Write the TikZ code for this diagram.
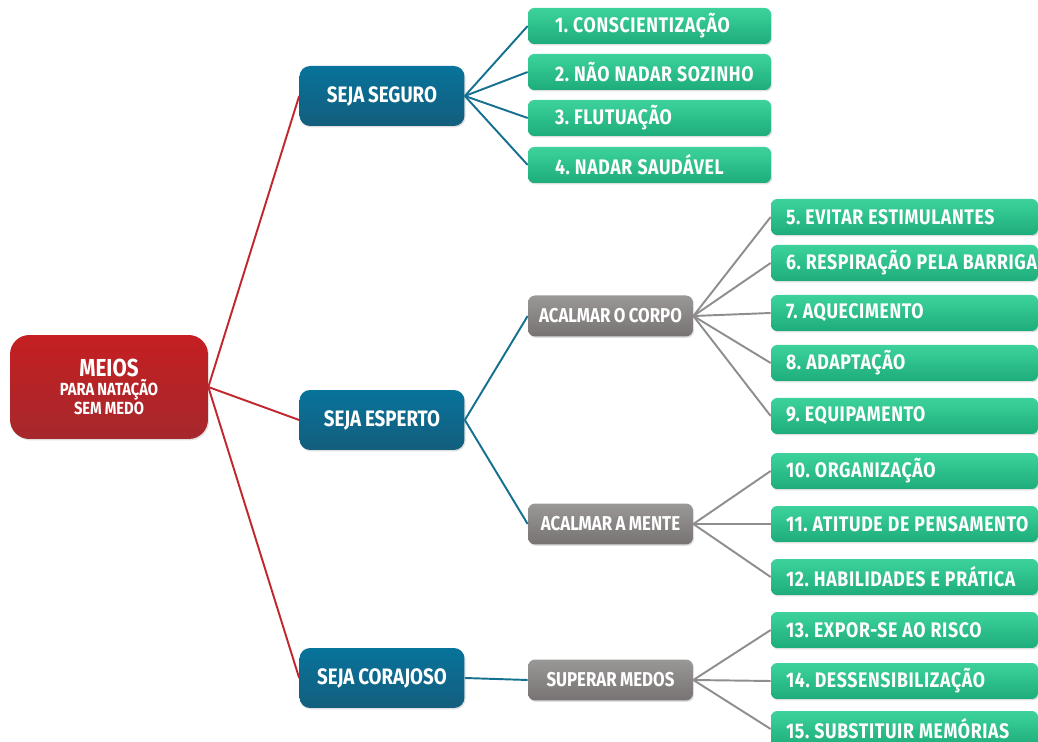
\documentclass[tikz,border=0pt]{standalone}
\usepackage{fontspec}
\setmainfont{Fira Sans}
\newfontfamily\condfont[FakeStretch=0.84, WordSpace=0.85]{Fira Sans}
\newfontfamily\leaffont[FakeStretch=0.84, WordSpace=1.05, LetterSpace=3]{Fira Sans}
\usetikzlibrary{shadows}
\definecolor{rootT}{HTML}{C51F22}
\definecolor{rootB}{HTML}{A6282C}
\definecolor{blueT}{HTML}{08739B}
\definecolor{blueB}{HTML}{135E7D}
\definecolor{greenT}{HTML}{3DD29C}
\definecolor{greenB}{HTML}{1DAD7A}
\definecolor{grayT}{HTML}{9A9897}
\definecolor{grayB}{HTML}{767372}
\definecolor{redline}{HTML}{C1272D}
\definecolor{blueline}{HTML}{16708F}
\definecolor{grayline}{HTML}{8E8E8E}

\begin{document}
\begin{tikzpicture}[x=0.02cm,y=-0.02cm]
\useasboundingbox (0,0) rectangle (1038,742);
\tikzstyle{box} = [text=white, inner sep=0pt, font=\condfont\bfseries\frenchspacing\fontsize{12}{14}\selectfont,
  drop shadow={opacity=.25, shadow xshift=.6pt, shadow yshift=-.8pt}]
\tikzstyle{rootbox} = [box, top color=rootT, bottom color=rootB, rounded corners=11pt,
  minimum width=3.96cm, minimum height=2.08cm, align=center]
\tikzstyle{seja} = [box, top color=blueT, bottom color=blueB, rounded corners=6pt,
  minimum width=3.3cm, minimum height=1.2cm, font=\condfont\bfseries\frenchspacing\fontsize{12.7}{15}\selectfont]
\tikzstyle{calm} = [box, top color=grayT, bottom color=grayB, rounded corners=4pt,
  minimum width=3.3cm, minimum height=.82cm, font=\condfont\bfseries\frenchspacing\fontsize{11.4}{14}\selectfont]
\tikzstyle{leaf} = [box, top color=greenT, bottom color=greenB, rounded corners=3.5pt, minimum height=.72cm,
  font=\leaffont\bfseries\frenchspacing\fontsize{12}{14}\selectfont]
\tikzstyle{leafa} = [leaf, execute at begin node={\hbox to 4.86cm\bgroup\hspace*{.54cm}},
  execute at end node={\hfil\egroup}]
\tikzstyle{leafb} = [leaf, execute at begin node={\hbox to 5.34cm\bgroup\hspace*{.3cm}},
  execute at end node={\hfil\egroup}]
\tikzstyle{link} = [line width=1.1pt]

\node[rootbox] (meios) at (109,387) {{\fontsize{14}{16}\selectfont MEIOS}\\[-3pt]
  {\fontsize{10}{10}\selectfont PARA NATAÇÃO}\\[-3pt] {\fontsize{10}{10}\selectfont SEM MEDO}};

\node[seja] (seguro) at (382,96) {SEJA SEGURO};
\node[seja] (esperto) at (382,420) {SEJA ESPERTO};
\node[seja] (corajoso) at (382,678) {SEJA CORAJOSO};

\node[leafa] (l1) at (649.5,26) {1. CONSCIENTIZAÇÃO};
\node[leafa] (l2) at (649.5,72) {2. NÃO NADAR SOZINHO};
\node[leafa] (l3) at (649.5,118) {3. FLUTUAÇÃO};
\node[leafa] (l4) at (649.5,165) {4. NADAR SAUDÁVEL};

\node[calm] (corpo) at (610.5,316) {ACALMAR O CORPO};
\node[calm] (mente) at (610.5,524) {ACALMAR A MENTE};
\node[calm] (medos) at (610.5,680) {SUPERAR MEDOS};

\node[leafb] (l5) at (904.5,217) {5. EVITAR ESTIMULANTES};
\node[leafb] (l6) at (904.5,263) {6. RESPIRAÇÃO PELA BARRIGA};
\node[leafb] (l7) at (904.5,313) {7. AQUECIMENTO};
\node[leafb] (l8) at (904.5,363) {8. ADAPTAÇÃO};
\node[leafb] (l9) at (904.5,416) {9. EQUIPAMENTO};
\node[leafb] (l10) at (904.5,471) {10. ORGANIZAÇÃO};
\node[leafb] (l11) at (904.5,524) {11. ATITUDE DE PENSAMENTO};
\node[leafb] (l12) at (904.5,577) {12. HABILIDADES E PRÁTICA};
\node[leafb] (l13) at (904.5,630) {13. EXPOR-SE AO RISCO};
\node[leafb] (l14) at (904.5,681) {14. DESSENSIBILIZAÇÃO};
\node[leafb] (l15) at (904.5,729) {15. SUBSTITUIR MEMÓRIAS};

\draw[link, redline] (meios.east) -- (seguro.west);
\draw[link, redline] (meios.east) -- (esperto.west);
\draw[link, redline] (meios.east) -- (corajoso.west);

\draw[link, blueline] (seguro.east) -- (l1.west);
\draw[link, blueline] (seguro.east) -- (l2.west);
\draw[link, blueline] (seguro.east) -- (l3.west);
\draw[link, blueline] (seguro.east) -- (l4.west);
\draw[link, blueline] (esperto.east) -- (corpo.west);
\draw[link, blueline] (esperto.east) -- (mente.west);
\draw[link, blueline] (corajoso.east) -- (medos.west);

\draw[link, grayline] (corpo.east) -- (l5.west);
\draw[link, grayline] (corpo.east) -- (l6.west);
\draw[link, grayline] (corpo.east) -- (l7.west);
\draw[link, grayline] (corpo.east) -- (l8.west);
\draw[link, grayline] (corpo.east) -- (l9.west);
\draw[link, grayline] (mente.east) -- (l10.west);
\draw[link, grayline] (mente.east) -- (l11.west);
\draw[link, grayline] (mente.east) -- (l12.west);
\draw[link, grayline] (medos.east) -- (l13.west);
\draw[link, grayline] (medos.east) -- (l14.west);
\draw[link, grayline] (medos.east) -- (l15.west);
\end{tikzpicture}
\end{document}
